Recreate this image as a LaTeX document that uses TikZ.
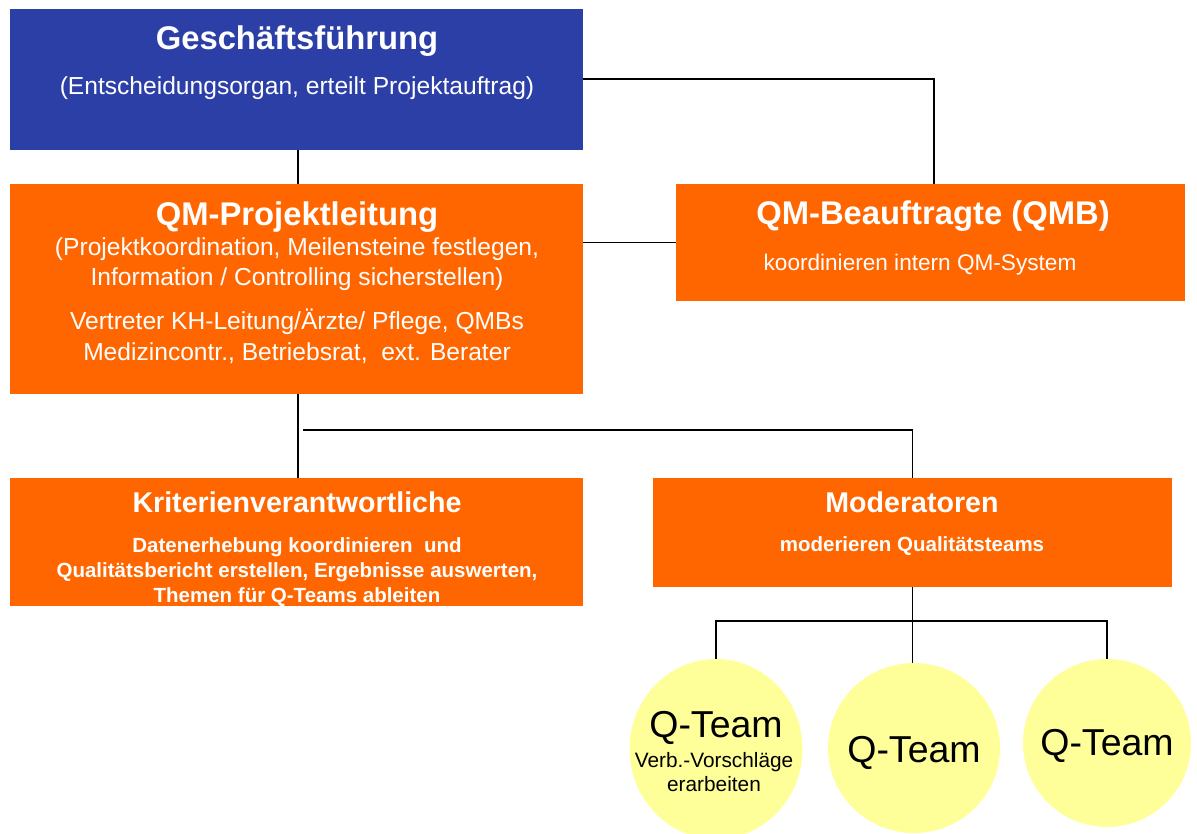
\documentclass[tikz,border=0pt]{standalone}
\usepackage{fontspec}
\setmainfont{Liberation Sans}
\usetikzlibrary{shapes.geometric}
\definecolor{gfblue}{RGB}{43,63,166}
\definecolor{qmorange}{RGB}{255,102,0}
\definecolor{qyellow}{RGB}{255,255,153}
\tikzset{
  box/.style={rectangle, inner sep=0pt, outer sep=0pt, anchor=north west},
  bluebox/.style={box, fill=gfblue},
  orbox/.style={box, fill=qmorange},
  team/.style={ellipse, fill=qyellow, inner sep=0pt, outer sep=0pt},
  wt/.style={text=white, anchor=base, inner sep=0pt},
  bt/.style={text=black, anchor=base, inner sep=0pt},
  ttl/.style={font=\fontsize{32.8}{38}\selectfont\bfseries},
  ttlb/.style={font=\fontsize{28.6}{33}\selectfont\bfseries},
  sub/.style={font=\fontsize{24.6}{28}\selectfont},
  subq/.style={font=\fontsize{22.6}{27}\selectfont},
  subb/.style={font=\fontsize{20.5}{24}\selectfont\bfseries},
  qt/.style={font=\fontsize{37.5}{42}\selectfont},
  qs/.style={font=\fontsize{20.8}{24}\selectfont},
  conn/.style={draw=black, line width=1.3pt}
}
\begin{document}
\begin{tikzpicture}[x=1pt,y=-1pt]
\useasboundingbox (0,0) rectangle (1197,834);
% boxes
\node[bluebox, minimum width=573pt, minimum height=141pt] (gf) at (10,9) {};
\node[orbox, minimum width=573pt, minimum height=210pt] (qmp) at (10,184) {};
\node[orbox, minimum width=509pt, minimum height=117pt] (qmb) at (676,184) {};
\node[orbox, minimum width=573pt, minimum height=128pt] (kv) at (10,478) {};
\node[orbox, minimum width=519pt, minimum height=109pt] (mod) at (653,478) {};
% teams
\node[team, minimum width=173pt, minimum height=180pt] (q1) at (716,749) {};
\node[team, minimum width=172pt, minimum height=170pt] (q2) at (914,748) {};
\node[team, minimum width=168pt, minimum height=168pt] (q3) at (1107,743) {};
% texts
\node[wt, ttl] (t1) at (297,50) {Geschäftsführung};
\node[wt, sub] (t2) at (297,95) {(Entscheidungsorgan, erteilt Projektauftrag)};
\node[wt, ttl] (t3) at (297,226) {QM-Projektleitung};
\node[wt, sub] (t4) at (297,256) {(Projektkoordination, Meilensteine festlegen,};
\node[wt, sub] (t5) at (297,286) {Information / Controlling sicherstellen)};
\node[wt, sub] (t6) at (297,330) {Vertreter KH-Leitung/Ärzte/ Pflege, QMBs};
\node[wt, sub] (t7) at (297,360) {Medizincontr., Betriebsrat,\ \ ext. Berater};
\node[wt, ttl] (t8) at (933,225) {QM-Beauftragte (QMB)};
\node[wt, subq] (t9) at (920,271) {koordinieren intern QM-System};
\node[wt, ttlb] (t10) at (297,512) {Kriterienverantwortliche};
\node[wt, subb] (t11) at (297,552) {Datenerhebung koordinieren\ \ und};
\node[wt, subb] (t12) at (297,577) {Qualitätsbericht erstellen, Ergebnisse auswerten,};
\node[wt, subb] (t13) at (297,602) {Themen für Q-Teams ableiten};
\node[wt, ttlb] (t14) at (912,512) {Moderatoren};
\node[wt, subb] (t15) at (912,551) {moderieren Qualitätsteams};
\node[bt, qt] (t16) at (716,737) {Q-Team};
\node[bt, qs] (t17) at (714,767) {Verb.-Vorschläge};
\node[bt, qs] (t18) at (714,791) {erarbeiten};
\node[bt, qt] (t19) at (914,762) {Q-Team};
\node[bt, qt] (t20) at (1107,755) {Q-Team};
% connectors
\draw[conn] ([xshift=1.5pt]gf.south) -- ([xshift=1.5pt]qmp.north);
\draw[conn] (gf.north east |- 0,79) -| ([xshift=3.5pt]qmb.north);
\draw[conn] (qmp.east |- qmb.west) -- (qmb.west);
\draw[conn] ([xshift=1.5pt]qmp.south) -- ([xshift=1.5pt]kv.north);
\coordinate (jn) at (303,430);
\draw[conn] (jn) -| (mod.north);
\draw[conn] (mod.south) -- (mod.south |- q2.north);
\coordinate (hb) at (mod.south |- 0,621);
\draw[conn] (q1.north) -- (q1.north |- hb) -- (q3.north |- hb) -- (q3.north);
\end{tikzpicture}
\end{document}
